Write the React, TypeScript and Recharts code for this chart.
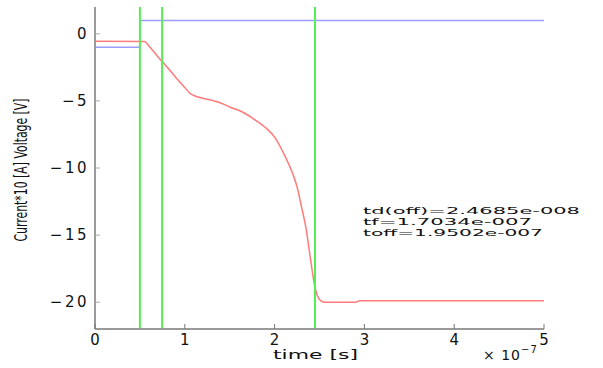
import { LineChart, Line, XAxis, YAxis, ReferenceLine } from 'recharts'

// time axis in units of 1e-7 s
const redTime = [0, 0.55, 0.6, 0.7, 0.8, 0.9, 1.0, 1.06, 1.12, 1.2, 1.3, 1.4, 1.5, 1.6, 1.7, 1.8, 1.9, 2.0, 2.1, 2.2, 2.25, 2.3, 2.35, 2.4, 2.45, 2.5, 2.55, 2.9, 2.95, 5]
const redValue = [-0.55, -0.58, -0.9, -1.7, -2.45, -3.25, -4.0, -4.45, -4.65, -4.8, -4.95, -5.15, -5.45, -5.7, -6.05, -6.5, -7.0, -7.7, -8.9, -10.4, -11.4, -12.9, -14.5, -16.8, -18.9, -19.8, -20.0, -20.0, -19.9, -19.9]

const blueTime = [0, 0.5, 0.5, 5]
const blueValue = [-1, -1, 1, 1]

const markerTimes = [0.5, 0.747, 2.45]

const xTicks = [0, 1, 2, 3, 4, 5]
const yTicks = [-20, -15, -10, -5, 0]

const annotations = ['td(off)=2.4685e-008', 'tf=1.7034e-007', 'toff=1.9502e-007']

const redData = redTime.map((t, i) => ({ t, v: redValue[i] }))
const blueData = blueTime.map((t, i) => ({ t, v: blueValue[i] }))

const font = '"DejaVu Sans", sans-serif'
const axisColor = '#9a9a9a'

const fmt = (v: number) => (v < 0 ? '\u2212' + Math.abs(v) : String(v))

const BottomTick = (props: any) => {
  const { x, y, payload } = props
  return (
    <g>
      <line x1={x} y1={y} x2={x} y2={y - 5} stroke="#777" />
      <text x={x} y={y + 16} textAnchor="middle" fontSize={15} fill="#111" fontFamily={font}>
        {fmt(payload.value)}
      </text>
    </g>
  )
}

const TopTick = (props: any) => {
  const { x, y } = props
  return <line x1={x} y1={y} x2={x} y2={y + 5} stroke="#777" />
}

const LeftTick = (props: any) => {
  const { x, y, payload } = props
  return (
    <g>
      <line x1={x} y1={y} x2={x + 5} y2={y} stroke="#aaa" />
      <text x={x - 6} y={y + 5} textAnchor="end" fontSize={15} fill="#111" fontFamily={font} letterSpacing={2.5}>
        {fmt(payload.value)}
      </text>
    </g>
  )
}

const RightTick = (props: any) => {
  const { x, y } = props
  return <line x1={x} y1={y} x2={x - 5} y2={y} stroke="#aaa" />
}

export default function App() {
  return (
    <div style={{ position: 'absolute', left: 0, top: 0, width: 603, height: 368, background: '#fff' }}>
      <LineChart width={603} height={368} margin={{ top: 7, right: 59, bottom: 0, left: 0 }}>
        <XAxis
          dataKey="t"
          type="number"
          domain={[0, 5]}
          ticks={xTicks}
          height={39}
          tickSize={0}
          tickMargin={0}
          tick={<BottomTick />}
          axisLine={{ stroke: axisColor, strokeWidth: 2 }}
          allowDuplicatedCategory={false}
        />
        <XAxis
          xAxisId="top"
          orientation="top"
          dataKey="t"
          type="number"
          domain={[0, 5]}
          ticks={xTicks}
          height={0}
          tickSize={0}
          tickMargin={0}
          tick={<TopTick />}
          axisLine={{ stroke: '#c4c4c4', strokeWidth: 2 }}
        />
        <YAxis
          type="number"
          domain={[-22, 2]}
          ticks={yTicks}
          width={95}
          tickSize={0}
          tickMargin={0}
          tick={<LeftTick />}
          axisLine={{ stroke: axisColor, strokeWidth: 2 }}
        />
        <YAxis
          yAxisId="right"
          orientation="right"
          type="number"
          domain={[-22, 2]}
          ticks={yTicks}
          width={0}
          tickSize={0}
          tickMargin={0}
          tick={<RightTick />}
          axisLine={{ stroke: '#8a8a8a', strokeWidth: 2 }}
        />
        <Line
          data={blueData}
          dataKey="v"
          type="linear"
          stroke="#9c9cff"
          strokeWidth={1.5}
          dot={false}
          isAnimationActive={false}
        />
        <Line
          data={redData}
          dataKey="v"
          type="monotone"
          stroke="#ff7a7a"
          strokeWidth={1.5}
          dot={false}
          isAnimationActive={false}
        />
        {markerTimes.map((t) => (
          <ReferenceLine key={t} x={t} stroke="#55ee55" strokeWidth={2} ifOverflow="extendDomain" />
        ))}
      </LineChart>
      <svg width={603} height={368} style={{ position: 'absolute', left: 0, top: 0, pointerEvents: 'none' }}>
        <g fontFamily={font} fill="#111">
          {annotations.map((s, i) => (
            <text
              key={s}
              x={363}
              y={214 + i * 11}
              fontSize={9.5}
              textLength={[217, 169, 180][i]}
              lengthAdjust="spacingAndGlyphs"
            >
              {s}
            </text>
          ))}
          <text x={273} y={359} fontSize={13} textLength={85} lengthAdjust="spacingAndGlyphs">
            time [s]
          </text>
          <text x={483} y={360} fontSize={14} letterSpacing={1}>
            × 10
            <tspan dy={-7} fontSize={10}>
              −7
            </tspan>
          </text>
          <text
            transform="translate(27,170) rotate(-90) scale(1,1.4)"
            textAnchor="middle"
            fontSize={12}
            textLength={143}
            lengthAdjust="spacingAndGlyphs"
          >
            Current*10 [A] Voltage [V]
          </text>
        </g>
      </svg>
    </div>
  )
}
